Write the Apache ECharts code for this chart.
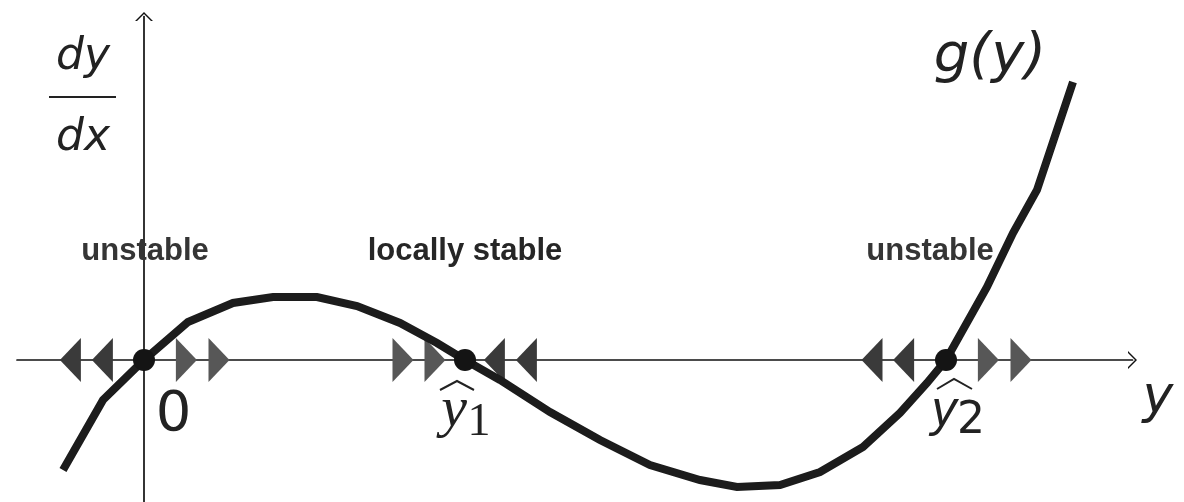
<!DOCTYPE html>
<html>
<head>
<meta charset="utf-8">
<script src="https://cdn.jsdelivr.net/npm/echarts@6/dist/echarts.min.js"></script>
<style>
  html, body { margin: 0; padding: 0; background: #ffffff; }
  #chart { width: 1184px; height: 502px; }
</style>
</head>
<body>
<div id="chart"></div>
<script>
// Phase line of dy/dx = g(y): curve samples, equilibria and flow directions
const curveY = [-2.025, -1.025, 0, 1.1, 2.225, 3.225, 4.325, 5.325, 6.4, 7.325, 8.025, 8.9, 10.15, 11.4, 12.65, 13.9, 14.825, 15.9, 16.9, 17.975, 18.9, 19.575, 20.05, 21.075, 21.725, 22.325, 23.225];
const curveG = [-2.75, -1.0, 0, 0.95, 1.425, 1.575, 1.575, 1.35, 0.925, 0.425, 0, -0.5, -1.3, -2.0, -2.625, -3.0, -3.175, -3.125, -2.8, -2.175, -1.325, -0.575, 0, 1.825, 3.175, 4.25, 6.95];

const roots = [0, 8.025, 20.05];
const rootSymbols = ['0', 'y', 'y'];
const rootSubscripts = ['', '1', '2'];
const rootHats = [false, true, true];

const leftFlow = [-1.84, -1.04, 8.76, 9.56, 18.2, 18.99];
const rightFlow = [1.06, 1.875, 6.475, 7.275, 21.11, 21.925];

const regionNames = ['unstable', 'locally stable', 'unstable'];
const curveName = 'g(y)';
const xAxisTitle = 'y';
const yAxisTitleTop = 'dy';
const yAxisTitleBottom = 'dx';

// ---- layout (pixel offsets from each anchor) ----
const INK = '#222222';
const regionOffset = [[1, -109], [0, -109], [-16, -109]];
const regionColor = ['#353535', '#262626', '#353535'];
const rootMainLayout = [
  { dx: 29.5, dy: 55, size: 56, family: 'DejaVu Sans', style: 'normal' },
  { dx: -11, dy: 51, size: 58, family: 'Liberation Serif', style: 'italic' },
  { dx: -2, dy: 52, size: 50, family: 'Liberation Sans', style: 'italic' }
];
const rootSubLayout = [
  null,
  { dx: 14, dy: 63, size: 46, family: 'Liberation Serif' },
  { dx: 25, dy: 62, size: 44, family: 'DejaVu Sans' }
];
const rootHatLayout = [
  null,
  [[-25, 30], [-8, 21], [9, 30]],
  [[-9, 29], [8, 19], [26, 29]]
];

// open chevron used as the arrow head on both axes (points up before rotation)
const chevron = 'path://M0,9 L9,0 L18,9 L16,9 L9,2 L2,9 Z';

function textEl(text, x, y, size, family, fstyle, weight, color) {
  return {
    type: 'text',
    style: {
      text: text, x: x, y: y,
      align: 'center', verticalAlign: 'middle',
      textAlign: 'center', textVerticalAlign: 'middle',
      fontSize: size, fontFamily: family, fontStyle: fstyle || 'normal',
      fontWeight: weight || 'normal', fill: color || INK
    }
  };
}

const chart = echarts.init(document.getElementById('chart'), null, { renderer: 'canvas' });

const axisCommon = {
  type: 'value',
  axisTick: { show: false },
  axisLabel: { show: false },
  splitLine: { show: false },
  axisLine: {
    show: true,
    onZero: true,
    symbol: ['none', chevron],
    symbolSize: [18, 9],
    lineStyle: { color: '#111111', width: 1.7 }
  }
};

chart.setOption({
  animation: false,
  backgroundColor: '#ffffff',
  grid: { left: 17, right: 51.5, top: 16.5, bottom: 0, containLabel: false },
  xAxis: Object.assign({}, axisCommon, {
    min: -3.175, max: 24.7125,
    name: xAxisTitle,
    nameLocation: 'end',
    nameGap: 10,
    nameTextStyle: {
      fontFamily: 'DejaVu Sans', fontStyle: 'italic', fontSize: 52,
      color: INK, verticalAlign: 'top', padding: [12, 0, 0, 0]
    }
  }),
  yAxis: Object.assign({}, axisCommon, {
    min: -3.55, max: 8.5875
  }),
  graphic: [
    Object.assign(textEl(yAxisTitleTop, 83, 58, 44, 'DejaVu Sans', 'italic'), { z: 10 }),
    { type: 'line', shape: { x1: 49, y1: 97, x2: 116, y2: 97 }, style: { stroke: INK, lineWidth: 2 }, z: 10 },
    Object.assign(textEl(yAxisTitleBottom, 83, 139, 44, 'DejaVu Sans', 'italic'), { z: 10 })
  ],
  series: [
    {
      type: 'scatter',
      name: 'flow left',
      data: leftFlow.map(v => [v, 0]),
      symbol: 'triangle',
      symbolSize: [44, 21],
      symbolRotate: 90,
      itemStyle: { color: '#3a3a3a', opacity: 1 },
      z: 2, silent: true
    },
    {
      type: 'scatter',
      name: 'flow right',
      data: rightFlow.map(v => [v, 0]),
      symbol: 'triangle',
      symbolSize: [44, 21],
      symbolRotate: -90,
      itemStyle: { color: '#575757', opacity: 1 },
      z: 2, silent: true
    },
    {
      type: 'line',
      name: curveName,
      data: curveY.map((v, i) => [v, curveG[i]]),
      showSymbol: false,
      symbol: 'none',
      smooth: false,
      lineStyle: { color: '#1c1c1c', width: 8, cap: 'butt', join: 'miter' },
      z: 3, silent: true
    },
    {
      type: 'scatter',
      name: 'equilibria',
      data: roots.map(v => [v, 0]),
      symbol: 'circle',
      symbolSize: 22,
      itemStyle: { color: '#141414', opacity: 1 },
      z: 4, silent: true
    },
    {
      // stability labels above each equilibrium
      type: 'custom',
      name: 'stability',
      data: roots.map(v => [v, 0]),
      z: 5, silent: true,
      renderItem: function (params, api) {
        const i = params.dataIndex;
        const p = api.coord([api.value(0), api.value(1)]);
        const o = regionOffset[i];
        return textEl(regionNames[i], p[0] + o[0], p[1] + o[1], 31, 'Liberation Sans', 'normal', 'bold', regionColor[i]);
      }
    },
    {
      // equilibrium names under the axis
      type: 'custom',
      name: 'equilibrium labels',
      data: roots.map(v => [v, 0]),
      z: 5, silent: true,
      renderItem: function (params, api) {
        const i = params.dataIndex;
        const p = api.coord([api.value(0), api.value(1)]);
        const m = rootMainLayout[i];
        const children = [textEl(rootSymbols[i], p[0] + m.dx, p[1] + m.dy, m.size, m.family, m.style)];
        const s = rootSubLayout[i];
        if (s && rootSubscripts[i]) {
          children.push(textEl(rootSubscripts[i], p[0] + s.dx, p[1] + s.dy, s.size, s.family, 'normal'));
        }
        if (rootHats[i]) {
          children.push({
            type: 'polyline',
            shape: { points: rootHatLayout[i].map(q => [p[0] + q[0], p[1] + q[1]]) },
            style: { stroke: INK, lineWidth: 2, fill: null }
          });
        }
        return { type: 'group', children: children };
      }
    },
    {
      // curve name near its upper end
      type: 'custom',
      name: 'curve label',
      data: [[curveY[curveY.length - 1], curveG[curveG.length - 1]]],
      z: 5, silent: true,
      renderItem: function (params, api) {
        const p = api.coord([api.value(0), api.value(1)]);
        return textEl(curveName, p[0] - 83, p[1] - 25, 56, 'DejaVu Sans', 'italic');
      }
    }
  ]
});
</script>
</body>
</html>
